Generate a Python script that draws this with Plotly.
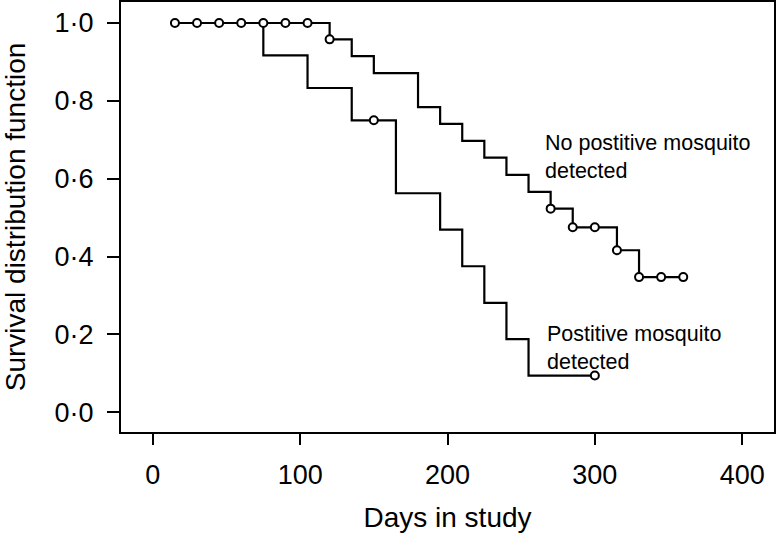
import plotly.graph_objects as go

# Kaplan-Meier step data
neg_days = [15, 120, 135, 150, 180, 195, 210, 225, 240, 255, 270, 285, 315, 330, 360]
neg_surv = [1.0, 0.958, 0.915, 0.871, 0.784, 0.741, 0.697, 0.654, 0.610, 0.566, 0.523, 0.475, 0.416, 0.347, 0.347]
neg_cens_days = [15, 30, 45, 60, 75, 90, 105, 120, 270, 285, 300, 315, 330, 345, 360]
neg_cens_surv = [1.0, 1.0, 1.0, 1.0, 1.0, 1.0, 1.0, 0.958, 0.523, 0.475, 0.475, 0.416, 0.347, 0.347, 0.347]

pos_days = [15, 75, 105, 135, 165, 195, 210, 225, 240, 255, 300]
pos_surv = [1.0, 0.917, 0.833, 0.750, 0.5625, 0.469, 0.375, 0.281, 0.1875, 0.094, 0.094]
pos_cens_days = [150, 300]
pos_cens_surv = [0.750, 0.094]

x_ticks = [0, 100, 200, 300, 400]
y_ticks = [0.0, 0.2, 0.4, 0.6, 0.8, 1.0]
y_ticktext = ["0·0", "0·2", "0·4", "0·6", "0·8", "1·0"]

FONT = "Liberation Sans, Arial, Helvetica, sans-serif"
line_style = dict(color="black", width=2.2, shape="hv")
marker_style = dict(symbol="circle", size=8, color="white", line=dict(color="black", width=2))

fig = go.Figure()
fig.add_trace(go.Scatter(x=pos_days, y=pos_surv, mode="lines", line=line_style, showlegend=False, hoverinfo="skip"))
fig.add_trace(go.Scatter(x=neg_days, y=neg_surv, mode="lines", line=line_style, showlegend=False, hoverinfo="skip"))
fig.add_trace(go.Scatter(x=pos_cens_days, y=pos_cens_surv, mode="markers", marker=marker_style, showlegend=False, hoverinfo="skip"))
fig.add_trace(go.Scatter(x=neg_cens_days, y=neg_cens_surv, mode="markers", marker=marker_style, showlegend=False, hoverinfo="skip"))

fig.add_annotation(x=265, y=0.656, xref="x", yref="y", text="No postitive mosquito<br>detected",
                   showarrow=False, xanchor="left", yanchor="middle", align="left",
                   font=dict(family=FONT, size=21.5, color="black"))
fig.add_annotation(x=266, y=0.164, xref="x", yref="y", text="Postitive mosquito<br>detected",
                   showarrow=False, xanchor="left", yanchor="middle", align="left",
                   font=dict(family=FONT, size=21.5, color="black"))

fig.update_layout(
    width=776, height=535,
    margin=dict(l=121, r=2, t=2, b=103, autoexpand=False),
    plot_bgcolor="white", paper_bgcolor="white",
    font=dict(family=FONT, color="black"),
)
fig.update_xaxes(
    range=[-21.6, 421.6], tickvals=x_ticks, ticks="outside", ticklen=11, tickwidth=1.5,
    tickcolor="black", showgrid=False, zeroline=False, showline=True, linecolor="black",
    linewidth=2, mirror=True, tickfont=dict(size=27, family=FONT, color="black"),
    ticklabelstandoff=7, automargin=False,
    title=dict(text="Days in study", font=dict(size=28, family=FONT, color="black"), standoff=18),
)
fig.update_yaxes(
    range=[-0.051, 1.054], tickvals=y_ticks, ticktext=y_ticktext, ticks="outside", ticklen=12,
    tickwidth=1.5, tickcolor="black", showgrid=False, zeroline=False, showline=True,
    linecolor="black", linewidth=2, mirror=True, tickfont=dict(size=27, family=FONT, color="black"),
    ticklabelstandoff=8, automargin=False,
    title=dict(text="Survival distribution function", font=dict(size=28, family=FONT, color="black"), standoff=26),
)

fig.write_html("out.html", config={"displayModeBar": False},
               post_script="document.body.style.margin='0px';document.body.style.overflow='hidden';")
